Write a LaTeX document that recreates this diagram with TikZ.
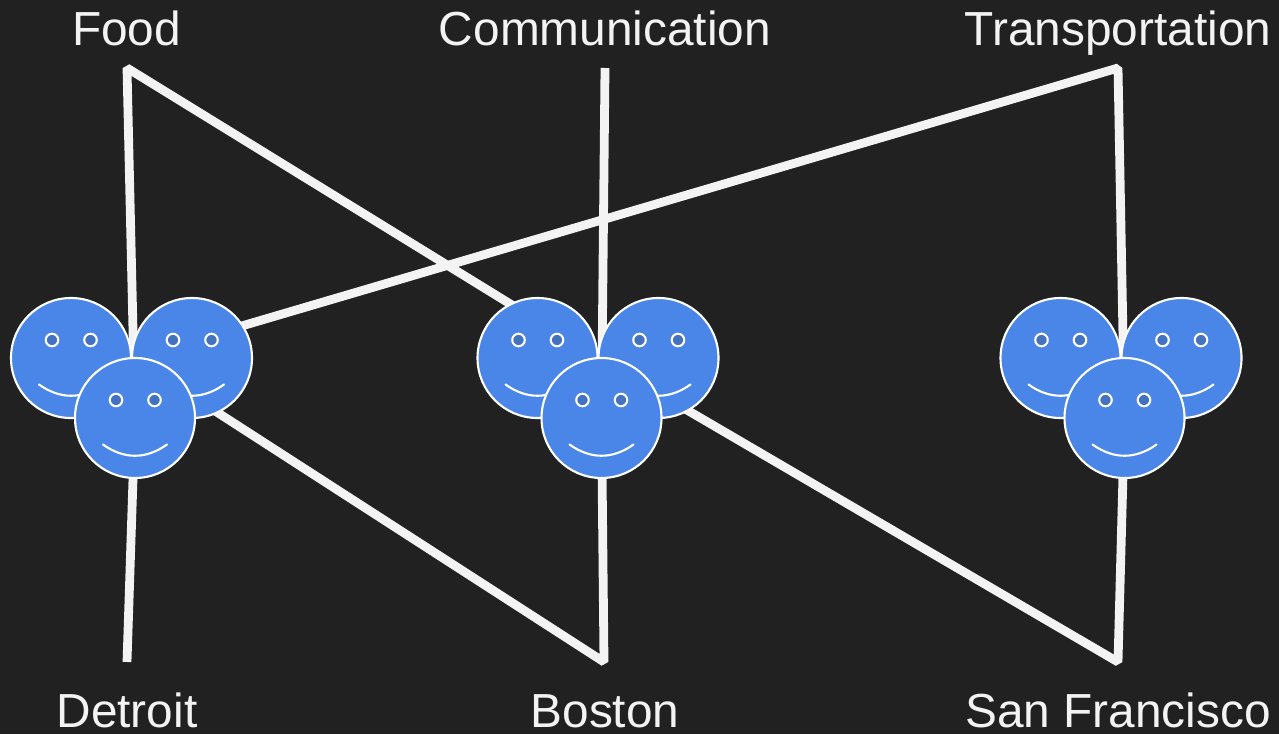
\documentclass[tikz,border=0pt]{standalone}
\usepackage{fontspec}
\setmainfont{Liberation Sans}
\definecolor{backdrop}{HTML}{212121}
\definecolor{linegrey}{HTML}{F3F3F3}
\definecolor{faceblue}{HTML}{4A86E8}
\definecolor{eyeblue}{HTML}{4272C0}
\tikzset{
  link/.style={draw=linegrey,line width=5pt,line join=bevel},
  label/.style={anchor=base,text=linegrey,font=\fontsize{27.2}{32}\selectfont,inner sep=0pt},
  face/.style={circle,draw=white,fill=faceblue,line width=1.2pt,minimum size=2.4cm,inner sep=0pt},
  eye/.style={draw=white,fill=eyeblue,line width=1.2pt},
  smile/.style={draw=white,line width=1.2pt,line cap=round}
}
\newcommand{\smiley}[3]{
\node[face](#1)at(#2,#3){};
\draw[eye](#2-0.38,#3+0.36)circle(0.125);
\draw[eye](#2+0.39,#3+0.36)circle(0.125);
\draw[smile](#2-0.64,#3-0.53)..controls(#2-0.22,#3-0.83)and(#2+0.22,#3-0.83)..(#2+0.64,#3-0.53);
}
\begin{document}
\begin{tikzpicture}
\fill[backdrop](0,0)rectangle(25.58,14.68);
\useasboundingbox(0,0)rectangle(25.58,14.68);
% line ends
\coordinate(foodend)at(2.54,13.32);
\coordinate(commend)at(12.10,13.32);
\coordinate(transend)at(22.36,13.32);
\coordinate(detroitend)at(2.54,1.44);
\coordinate(bostonend)at(12.08,1.44);
\coordinate(sfend)at(22.36,1.44);
\coordinate(detroithub)at(2.66,7.52);
\coordinate(bostonhub)at(11.96,7.52);
\coordinate(detroitmid)at(2.70,6.32);
\coordinate(bostonmid)at(12.03,6.32);
\coordinate(sfmid)at(22.49,6.32);
% connectors
\draw[link](detroitmid)--(foodend)--(bostonhub);
\draw[link](commend)--(bostonmid);
\draw[link](detroithub)--(transend)--(sfmid);
\draw[link](detroitend)--(detroitmid);
\draw[link](detroithub)--(bostonend)--(bostonmid);
\draw[link](bostonhub)--(sfend)--(sfmid);
% people
\foreach \hub/\hx in {d/2.64,b/11.97,s/22.43}{
\smiley{\hub left}{\hx-1.22}{7.52}
\smiley{\hub right}{\hx+1.20}{7.52}
\smiley{\hub front}{\hx+0.06}{6.32}
}
% labels
\node[label](food)at(2.53,13.76){Food};
\node[label](comm)at(12.10,13.76){Communication};
\node[label](trans)at(22.36,13.76){Transportation};
\node[label](detroit)at(2.54,0.14){Detroit};
\node[label](boston)at(12.10,0.14){Boston};
\node[label](sf)at(22.36,0.14){San Francisco};
\end{tikzpicture}
\end{document}
